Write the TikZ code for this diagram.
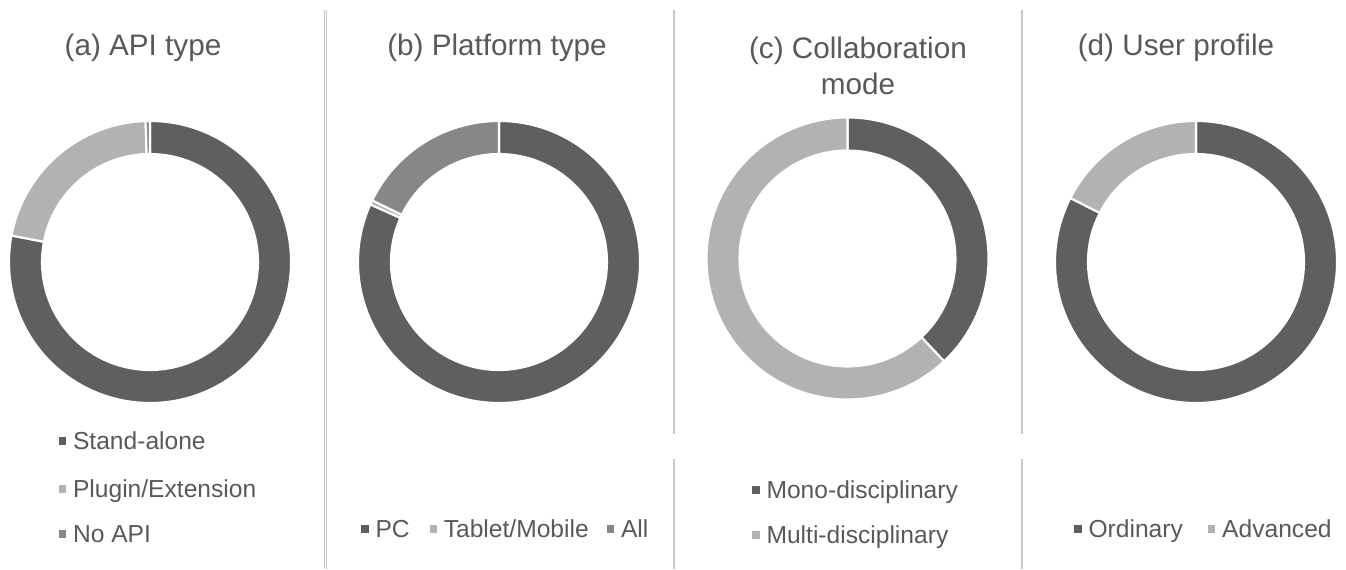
\documentclass[tikz,border=0pt]{standalone}
\usepackage{fontspec}
\setmainfont{Liberation Sans}
\usetikzlibrary{positioning}

\definecolor{darkseg}{HTML}{5F5F5F}
\definecolor{lightseg}{HTML}{B2B2B2}
\definecolor{midseg}{HTML}{878787}
\definecolor{labelgray}{HTML}{595959}
\definecolor{rulegray}{HTML}{C8C8C8}

% one slice of a ring: centre, start angle, end angle, colour
\newcommand{\ringpart}[4]{%
  \fill[#4, draw=white, line width=1.2pt]
    ([shift={(#2:141)}]#1) arc[start angle=#2, end angle=#3, radius=141]
    -- ([shift={(#3:108)}]#1) arc[start angle=#3, end angle=#2, radius=108] -- cycle;}

\tikzset{
  charttitle/.style={font=\fontsize{16.9pt}{20.5pt}\selectfont, text=labelgray, align=center},
  legmark/.style={minimum size=4pt, inner sep=0pt},
  legtext/.style={font=\fontsize{14pt}{17pt}\selectfont, text=labelgray, inner sep=0pt,
    text height=10pt, text depth=0pt, right=3.6pt of #1},
}

\begin{document}
\begin{tikzpicture}[x=0.02cm, y=0.02cm]
	\useasboundingbox (0,0) rectangle (1346,569);
	\fill[white] (0,0) rectangle (1346,569);
	
	% panel rules
	\draw[rulegray, line width=0.5pt] (324.3,559) -- (324.3,0);
	\draw[rulegray, line width=0.5pt] (326.5,559) -- (326.5,0);
	\draw[rulegray, line width=0.9pt] (673.8,559) -- (673.8,135);
	\draw[rulegray, line width=0.9pt] (673.8,110) -- (673.8,0);
	\draw[rulegray, line width=0.9pt] (1022,559) -- (1022,135);
	\draw[rulegray, line width=0.9pt] (1022,110) -- (1022,0);
	
	% ring centres
	\coordinate (ca) at (150,307);
	\coordinate (cb) at (499,307);
	\coordinate (cc) at (847.5,310.5);
	\coordinate (cd) at (1196,307);
	
	% (a) API type
	\node[charttitle] (ta) at (143,521) {(a) API type};
	\ringpart{ca}{90}{-190.8}{darkseg}
	\ringpart{ca}{-190.8}{-268.2}{lightseg}
	\ringpart{ca}{-268.2}{-270}{midseg}
	
	\node[legmark, fill=darkseg] (ma1) at (62.5,128) {};
	\node[legtext=ma1] (la1) {Stand-alone};
	\node[legmark, fill=lightseg] (ma2) at (62.5,80) {};
	\node[legtext=ma2] (la2) {Plugin/Extension};
	\node[legmark, fill=midseg] (ma3) at (62.5,35) {};
	\node[legtext=ma3] (la3) {No API};
	
	% (b) Platform type
	\node[charttitle] (tb) at (497,521) {(b) Platform type};
	\ringpart{cb}{90}{-204.1}{darkseg}
	\ringpart{cb}{-204.1}{-205.9}{lightseg}
	\ringpart{cb}{-205.9}{-270}{midseg}
	
	\node[legmark, fill=darkseg] (mb1) at (365,40) {};
	\node[legtext=mb1] (lb1) {PC};
	\node[legmark, fill=lightseg, right=11pt of lb1] (mb2) {};
	\node[legtext=mb2] (lb2) {Tablet/Mobile};
	\node[legmark, fill=midseg, right=10pt of lb2] (mb3) {};
	\node[legtext=mb3] (lb3) {All};
	
	% (c) Collaboration mode
	\node[charttitle] (tc) at (858,503) {(c) Collaboration\\mode};
	\ringpart{cc}{90}{-46.8}{darkseg}
	\ringpart{cc}{-46.8}{-270}{lightseg}
	
	\node[legmark, fill=darkseg] (mc1) at (756,79) {};
	\node[legtext=mc1] (lc1) {Mono-disciplinary};
	\node[legmark, fill=lightseg] (mc2) at (756,34) {};
	\node[legtext=mc2] (lc2) {Multi-disciplinary};
	
	% (d) User profile
	\node[charttitle] (td) at (1176,521) {(d) User profile};
	\ringpart{cd}{90}{-207}{darkseg}
	\ringpart{cd}{-207}{-270}{lightseg}
	
	\node[legmark, fill=darkseg] (md1) at (1078,40) {};
	\node[legtext=md1] (ld1) {Ordinary};
	\node[legmark, fill=lightseg, right=14pt of ld1] (md2) {};
	\node[legtext=md2] (ld2) {Advanced};
	
\end{tikzpicture}
\end{document}
